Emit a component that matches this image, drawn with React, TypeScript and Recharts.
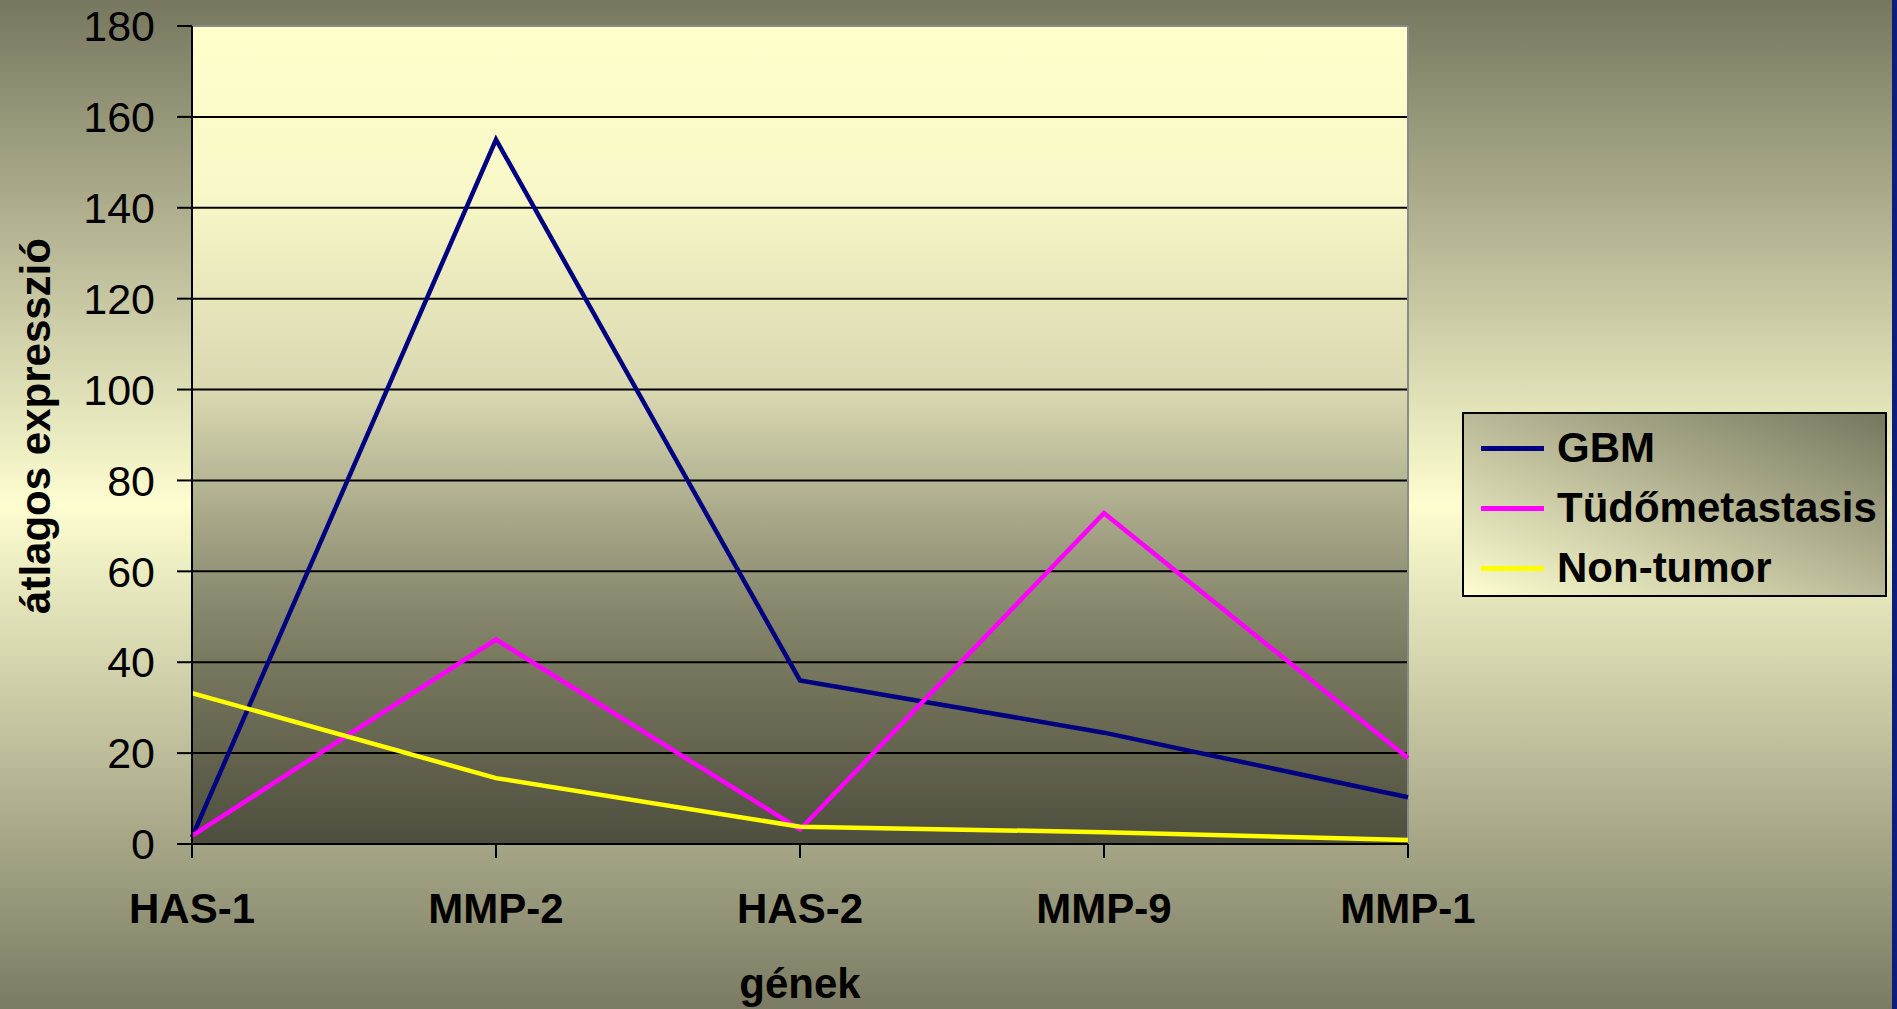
import React from "react"
import {
  CartesianGrid,
  Legend,
  Line,
  LineChart,
  ReferenceLine,
  XAxis,
  YAxis,
} from "recharts"

document.body.style.margin = "0"
document.body.style.overflow = "hidden"

const genes = ["HAS-1", "MMP-2", "HAS-2", "MMP-9", "MMP-1"]
const gbm = [1.5, 155, 36, 24.5, 10.3]
const tudo = [1.8, 45, 3.2, 72.8, 18.9]
const nonTumor = [33.2, 14.5, 3.8, 2.6, 0.9]
const yTicks = [0, 20, 40, 60, 80, 100, 120, 140, 160, 180]

const series = [
  { key: "gbm", name: "GBM", color: "#000080", values: gbm },
  { key: "tudo", name: "Tüdőmetastasis", color: "#ff00ff", values: tudo },
  { key: "non", name: "Non-tumor", color: "#ffff00", values: nonTumor },
]

const data = genes.map((gene, i) => {
  const row: Record<string, string | number> = { gene }
  series.forEach((s) => {
    row[s.key] = s.values[i]
  })
  return row
})

const FONT = "'Liberation Sans', Arial, sans-serif"

// legend keeps the series order (the payload comes sorted by name)
function LegendBox() {
  return (
    <div
      style={{
        width: 425,
        height: 185,
        boxSizing: "border-box",
        border: "2px solid #000",
        background: "linear-gradient(to top right, #fdfdd0, #77775f)",
        paddingTop: 4,
        fontFamily: FONT,
      }}
    >
      {series.map((s) => (
        <div
          key={s.key}
          style={{ display: "flex", alignItems: "center", height: 60 }}
        >
          <div
            style={{
              marginLeft: 17,
              width: 63,
              height: 5,
              background: s.color,
            }}
          />
          <span
            style={{
              marginLeft: 13,
              fontSize: 42,
              fontWeight: "bold",
              color: "#000",
              lineHeight: "60px",
            }}
          >
            {s.name}
          </span>
        </div>
      ))}
    </div>
  )
}

export default function App() {
  return (
    <div
      style={{
        position: "relative",
        width: 1897,
        height: 1009,
        background:
          "linear-gradient(to bottom, #77775f 0%, #fdfdd0 50%, #7b7b63 100%)",
        fontFamily: FONT,
      }}
    >
      <LineChart
        width={1897}
        height={1009}
        data={data}
        margin={{ top: 26, right: 489, bottom: 0, left: 0 }}
      >
        <defs>
          <linearGradient id="plotBg" x1="0" y1="0" x2="0" y2="1">
            <stop offset="0%" stopColor="#ffffcc" />
            <stop offset="20%" stopColor="#f8f8c8" />
            <stop offset="45%" stopColor="#d8d7b0" />
            <stop offset="56%" stopColor="#b5b493" />
            <stop offset="70%" stopColor="#8a8a70" />
            <stop offset="78%" stopColor="#78785f" />
            <stop offset="100%" stopColor="#4e4e3e" />
          </linearGradient>
        </defs>
        <CartesianGrid
          vertical={false}
          stroke="#000"
          strokeWidth={2}
          fill="url(#plotBg)"
          fillOpacity={1}
        />
        <XAxis
          dataKey="gene"
          height={165}
          padding={{ left: 0, right: 0 }}
          axisLine={{ stroke: "#000", strokeWidth: 2 }}
          tickLine={{ stroke: "#000", strokeWidth: 2 }}
          tickSize={14}
          tickMargin={35}
          interval={0}
          tick={{
            fill: "#000",
            fontSize: 42,
            fontWeight: "bold",
            fontFamily: FONT,
          }}
          label={{
            content: ({ viewBox }: any) => (
              <text
                x={viewBox.x + viewBox.width / 2}
                y={viewBox.y + 154}
                textAnchor="middle"
                fontSize={42}
                fontWeight="bold"
                fontFamily={FONT}
                fill="#000"
              >
                gének
              </text>
            ),
          }}
        />
        <YAxis
          width={192}
          domain={[0, 180]}
          ticks={yTicks}
          interval={0}
          axisLine={{ stroke: "#000", strokeWidth: 2 }}
          tickLine={{ stroke: "#000", strokeWidth: 2 }}
          tickSize={15}
          tickMargin={22}
          tick={{ fill: "#000", fontSize: 43, fontFamily: FONT }}
          label={{
            content: ({ viewBox }: any) => (
              <text
                x={50}
                y={viewBox.y + viewBox.height / 2 - 9}
                transform={`rotate(-90 50 ${viewBox.y + viewBox.height / 2 - 9})`}
                textAnchor="middle"
                fontSize={42}
                fontWeight="bold"
                fontFamily={FONT}
                fill="#000"
              >
                átlagos expresszió
              </text>
            ),
          }}
        />
        <ReferenceLine y={180} stroke="#8a8a8a" strokeWidth={2} />
        <ReferenceLine x="MMP-1" stroke="#8a8a8a" strokeWidth={2} />
        {series.map((s) => (
          <Line
            key={s.key}
            type="linear"
            dataKey={s.key}
            name={s.name}
            stroke={s.color}
            strokeWidth={4.5}
            dot={false}
            activeDot={false}
            isAnimationActive={false}
          />
        ))}
        <Legend
          layout="horizontal"
          verticalAlign="middle"
          align="center"
          content={<LegendBox />}
          wrapperStyle={{ left: 1462, top: 412, width: 425, height: 185 }}
        />
      </LineChart>
      <div
        style={{
          position: "absolute",
          right: 0,
          top: 0,
          width: 5,
          height: 1009,
          background: "#0b1f7a",
        }}
      />
    </div>
  )
}
